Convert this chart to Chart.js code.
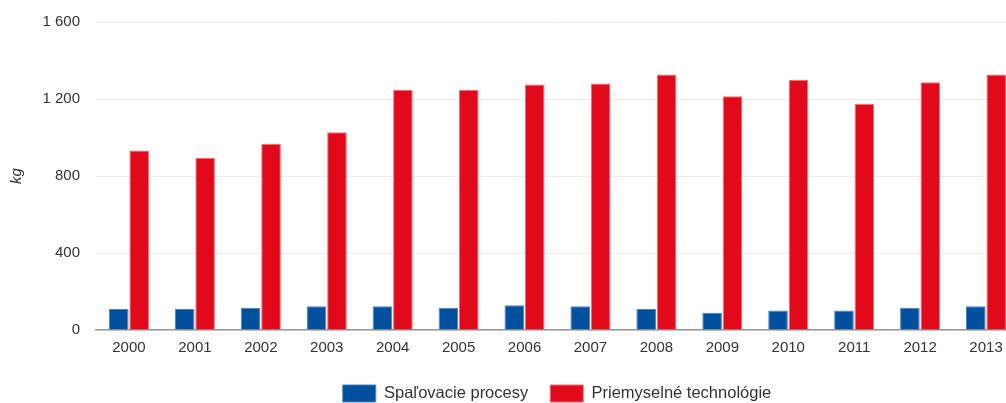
<!DOCTYPE html>
<html>
<head>
<meta charset="utf-8">
<script src="https://cdn.jsdelivr.net/npm/chart.js@4"></script>
<style>
  html, body { margin: 0; padding: 0; overflow: hidden; background: #fff; }
  #chart { display: block; }
</style>
</head>
<body>
<canvas id="chart" width="1114" height="412"></canvas>
<script>
const years = ['2000', '2001', '2002', '2003', '2004', '2005', '2006', '2007', '2008', '2009', '2010', '2011', '2012', '2013'];
const spalovacie = [109, 109, 116, 123, 123, 116, 129, 123, 109, 89, 101, 101, 116, 123];
const priemyselne = [933, 893, 968, 1027, 1247, 1247, 1275, 1280, 1327, 1214, 1299, 1174, 1287, 1327];
const yTicks = [0, 400, 800, 1200, 1600];

const font = 'Arial, "Liberation Sans", sans-serif';

let ctx = document.querySelector('#chart').getContext('2d');

let config = {
    type: 'bar',
    data: {
        labels: years,
        datasets: [{
            label: 'Spaľovacie procesy',
            data: spalovacie,
            backgroundColor: '#00509d',
            borderColor: '#4b80bd',
            borderWidth: 1,
            categoryPercentage: 0.62,
            barPercentage: 0.96
        }, {
            label: 'Priemyselné technológie',
            data: priemyselne,
            backgroundColor: '#e20a1a',
            borderColor: '#f36d75',
            borderWidth: 1,
            categoryPercentage: 0.62,
            barPercentage: 0.96
        }]
    },
    options: {
        responsive: false,
        animation: false,
        layout: { padding: { top: 22, left: 0, right: 0, bottom: 0 } },
        plugins: {
            tooltip: { enabled: false },
            legend: {
                position: 'bottom',
                labels: {
                    boxWidth: 33,
                    boxHeight: 17,
                    padding: 22,
                    color: '#333',
                    font: { family: font, size: 16.5 }
                }
            }
        },
        scales: {
            x: {
                grid: { display: false, drawTicks: false },
                border: { display: true, color: '#999', width: 1.5 },
                ticks: { color: '#333', padding: 9, font: { family: font, size: 15 } },
                afterFit(axis) { axis.height = 33; }
            },
            y: {
                min: 0,
                max: 1600,
                grid: { color: '#ebebeb', drawTicks: false },
                border: { display: false },
                afterBuildTicks(axis) { axis.ticks = yTicks.map(v => ({ value: v })); },
                ticks: {
                    color: '#333',
                    padding: 16,
                    font: { family: font, size: 15 },
                    callback: v => String(v).replace(/\B(?=(\d{3})+(?!\d))/g, ' ')
                },
                title: {
                    display: true,
                    text: 'kg',
                    color: '#333',
                    padding: { top: 8, bottom: 0 },
                    font: { family: font, size: 15, style: 'italic' }
                },
                afterFit(axis) {
                    axis.width = 96;
                    axis.paddingTop = 0;
                    axis.paddingBottom = 0;
                }
            },
            yR: {
                axis: 'y',
                position: 'right',
                grid: { display: false, drawTicks: false },
                border: { display: false },
                ticks: { display: false },
                afterFit(axis) {
                    axis.width = 95;
                    axis.paddingTop = 0;
                    axis.paddingBottom = 0;
                }
            }
        }
    }
};

let chart = new Chart(ctx, config);
</script>
</body>
</html>
